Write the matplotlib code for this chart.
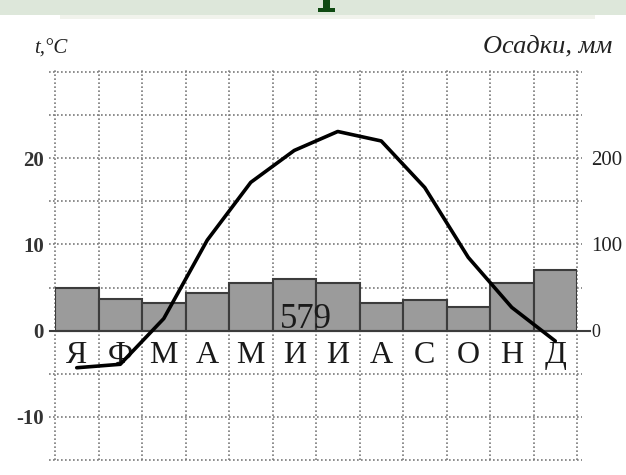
import numpy as np
import matplotlib.pyplot as plt
from matplotlib.patches import Rectangle

# climate data
months = ["Я", "Ф", "М", "А", "М", "И", "И", "А", "С", "О", "Н", "Д"]
precip_mm = [50, 37, 32, 44, 55, 60, 55, 32, 35, 27, 55, 70]
temp_c = [-4.3, -3.9, 1.4, 10.5, 17.2, 20.9, 23.1, 22.0, 16.6, 8.5, 2.7, -1.2]
total_precip = "579"

temp_ticks = [-10, 0, 10, 20]
precip_ticks = [0, 100, 200]

SERIF = "Liberation Serif"
GRID_KW = dict(color="#7a7a7a", linestyle=(0, (1, 1.4)), linewidth=1.2)

W, H = 626, 475
fig = plt.figure(figsize=(W / 100, H / 100), dpi=100)
fig.patch.set_facecolor("white")


def fig_rect(x0, y0, w, h, color):
    # rectangle given in picture pixels from the top-left corner
    fig.patches.append(Rectangle((x0 / W, 1 - (y0 + h) / H), w / W, h / H,
                                 transform=fig.transFigure, facecolor=color,
                                 edgecolor="none", zorder=0))


# green banner strip at the top (cut-off page header)
fig_rect(0, 0, W, 15, "#dde7da")
fig_rect(60, 15, 535, 4, "#f1f3ec")
fig_rect(323, 0, 7, 10, "#0f4a12")
fig_rect(318, 8, 17, 4, "#0f4a12")

ax2 = fig.add_axes([55 / W, 1 - 460 / H, 522 / W, 388 / H])
ax = ax2.twinx()
ax.set_zorder(ax2.get_zorder() + 1)
ax.patch.set_visible(False)

x = np.arange(len(months))

# dotted grid, a little wider than the plotting area
for gy in np.arange(-150, 301, 50):
    ax2.axhline(gy, xmin=-0.012, xmax=1.01, clip_on=False, zorder=0, **GRID_KW)
for gx in np.arange(-0.5, 12, 1):
    ax2.axvline(gx, ymin=0, ymax=1.005, clip_on=False, zorder=0, **GRID_KW)

# precipitation bars on the right scale
ax2.bar(x, precip_mm, width=1.0, color="#9b9b9b", edgecolor="#3c3c3c", linewidth=1.5, zorder=2)
ax2.set_xlim(-0.5, 11.5)
ax2.set_ylim(-150, 300)
ax2.yaxis.tick_right()
ax2.set_yticks(precip_ticks)
ax2.set_yticklabels([str(v) for v in precip_ticks], family=SERIF, fontsize=15, color="#222222")
ax2.get_yticklabels()[0].set_fontsize(13)
ax2.tick_params(axis="y", length=0, pad=10)
ax2.set_xticks([])
ax2.axhline(0, xmin=-0.01, xmax=1.025, color="#3c3c3c", linewidth=1.5, clip_on=False, zorder=3)

# temperature line on the left scale
ax.plot(x, temp_c, color="black", linewidth=2.6, solid_capstyle="round", zorder=5)
ax.set_ylim(-15, 30)
ax.yaxis.tick_left()
ax.set_yticks(temp_ticks)
ax.set_yticklabels([str(v) for v in temp_ticks], family=SERIF, fontsize=15,
                   fontweight="bold", color="#333333")
ax.tick_params(axis="y", length=0, pad=8)

for a in (ax, ax2):
    for s in a.spines.values():
        s.set_visible(False)

# month letters and annual total
for i, m in enumerate(months):
    ax.text(i, -3.7, m, family=SERIF, fontsize=23, ha="center", va="baseline",
            color="#1a1a1a", zorder=4)
ax.text(5.27, 0.35, total_precip, family=SERIF, fontsize=25, ha="center", va="baseline",
        color="#1a1a1a", zorder=4)

fig.text(34 / W, 1 - 54 / H, "t,°C", family=SERIF, style="italic", fontsize=15,
         color="#222222", ha="left", va="baseline")
fig.text(612 / W, 1 - 52 / H, "Осадки, мм", family=SERIF, style="italic", fontsize=19,
         color="#222222", ha="right", va="baseline")

fig.savefig("out.png", dpi=100)
